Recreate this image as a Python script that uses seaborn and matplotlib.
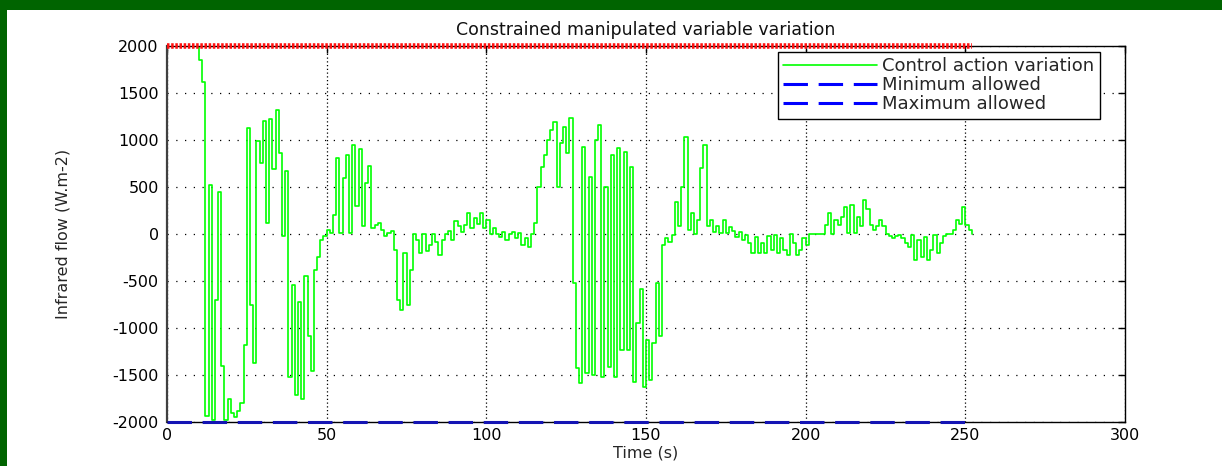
import numpy as np
import pandas as pd
import matplotlib
matplotlib.use("Agg")
import matplotlib.pyplot as plt
import seaborn as sns
from matplotlib.lines import Line2D
from matplotlib.patches import Rectangle

# ---------------- data ----------------
sample_time = 1.0  # s
control_values = [
    2000, 2000, 2000, 2000, 2000, 2000, 2000, 2000, 2000, 2000,
    1850, 1620, -1940, 520, -1980, -700, 450, -1400, -1980, -1750,
    -1900, -1950, -1880, -1800, -1180, 1130, -750, -1375, 990, 760,
    1200, 120, 1220, 690, 1320, 860, -25, 670, -1520, -540,
    -1710, -720, -1750, -450, -1090, -1460, -380, -240, -60, -25,
    45, 10, 205, 810, 10, 600, 845, 10, 950, 295,
    900, 80, 545, 720, 65, 100, 120, 45, -25, 10,
    30, -165, -700, -805, -200, -750, -380, 0, -60, -200,
    0, -185, -115, 0, -80, -220, -60, 0, 30, -60,
    135, 80, 20, 100, 225, 65, 170, 110, 225, 65,
    150, 0, 60, 0, -30, 20, -65, 0, 20, -45,
    10, -115, -40, -135, 0, 115, 500, 715, 840, 1000,
    1105, 1195, 500, 965, 1140, 860, 1230, -525, -1430, -1590,
    930, -1480, 610, -1500, 1000, 1160, -1520, 500, -1410, 840,
    -1520, 910, -1230, 875, -1230, 715, -1570, -950, -580, -1625,
    -1130, -1550, -1160, -525, -1090, -115, -45, -80, -10, 345,
    80, 500, 1035, 40, 220, 0, 150, 700, 945, 80,
    150, 20, 80, 10, 150, 10, 70, 30, -30, 20,
    -60, -10, -100, -205, -30, -200, -100, -200, -20, -170,
    -10, -200, -40, -170, -225, 0, -100, -225, -170, -45,
    -115, 0, 0, 0, 0, 0, 95, 220, 0, 150,
    95, 185, 290, 10, 310, 10, 185, 90, 360, 270,
    95, 40, 80, 150, 80, 0, -20, -45, -25, -10,
    -45, -100, -135, -10, -275, -60, -240, -30, -275, -170,
    -10, -205, -100, -20, 0, 0, 40, 150, 110, 285,
    100, 40, 0,
]
limit_time = [0, 252]
max_allowed = [2000, 2000]
min_allowed = [-2000, -2000]
x_ticks = [0, 50, 100, 150, 200, 250, 300]
y_ticks = [-2000, -1500, -1000, -500, 0, 500, 1000, 1500, 2000]

title_text = "Constrained manipulated variable variation"
xlabel_text = "Time (s)"
ylabel_text = "Infrared flow (W.m-2)"
legend_labels = ["Control action variation", "Minimum allowed", "Maximum allowed"]

# ---------------- figure ----------------
sns.set_style("white")
plt.rcParams["font.family"] = ["DejaVu Sans"]

W, H = 1222, 466
fig = plt.figure(figsize=(W / 100, H / 100), dpi=100, facecolor="#006400")
fig.add_artist(Rectangle((7 / W, 0), 1, (H - 10) / H, transform=fig.transFigure,
                         facecolor="white", edgecolor="none", zorder=-10))

ax_l, ax_r, ax_t, ax_b = 167, 1125, 46, 422
ax = fig.add_axes([ax_l / W, (H - ax_b) / H, (ax_r - ax_l) / W, (ax_b - ax_t) / H])
ax.set_facecolor("white")

df = pd.DataFrame({"time": np.arange(len(control_values)) * sample_time,
                   "value": control_values})
sns.lineplot(data=df, x="time", y="value", ax=ax, estimator=None, sort=False,
             drawstyle="steps-post", color="#00ff00", linewidth=1.2, legend=False)

lim_df = pd.DataFrame({"time": limit_time, "max": max_allowed, "min": min_allowed})
sns.lineplot(data=lim_df, x="time", y="min", ax=ax, estimator=None, color="#1414b4",
             linewidth=2.2, legend=False)
ln_min = ax.lines[-1]
ln_min.set_linestyle((0, (8, 3.5)))
ln_min.set_clip_on(False)
ln_min.set_zorder(3)
sns.lineplot(data=lim_df, x="time", y="max", ax=ax, estimator=None, color="#ff1010",
             linewidth=4.0, legend=False)
ln_max = ax.lines[-1]
ln_max.set_linestyle((0, (0.45, 0.3)))
ln_max.set_clip_on(False)
ln_max.set_zorder(3)

ax.set_xlim(0, 300)
ax.set_ylim(-2000, 2000)
ax.set_xticks(x_ticks)
ax.set_yticks(y_ticks)
ax.set_xticklabels([str(v) for v in x_ticks])
ax.set_yticklabels([str(v) for v in y_ticks])

ax.xaxis.grid(True, color="black", linewidth=0.9, linestyle=(0, (1, 2)))
ax.yaxis.grid(True, color="black", linewidth=0.9, linestyle=(0, (1, 6)))
ax.set_axisbelow(True)

for s in ax.spines.values():
    s.set_visible(True)
    s.set_color("black")
    s.set_linewidth(1.0)
ax.spines["left"].set_linewidth(1.6)
ax.spines["left"].set_color("#404040")

ax.tick_params(axis="both", direction="in", length=5, width=1, colors="black",
               labelsize=11.5, top=True, right=True, pad=6)
ax.tick_params(axis="x", pad=4)

ax.set_title(title_text, fontsize=12.5, pad=8, color="#111111")
ax.set_xlabel(xlabel_text, fontsize=11.5, labelpad=2)
ax.set_ylabel(ylabel_text, fontsize=11.5)
ax.yaxis.set_label_coords((70 - ax_l) / (ax_r - ax_l), 0.5)

handles = [
    Line2D([], [], color="#00ff00", linewidth=1.2),
    Line2D([], [], color="#0000ff", linewidth=2.2, linestyle=(0, (8, 3.5))),
    Line2D([], [], color="#0000ff", linewidth=2.2, linestyle=(0, (8, 3.5))),
]
leg = ax.legend(handles, legend_labels, loc="upper right",
                bbox_to_anchor=((1100 - ax_l) / (ax_r - ax_l), (ax_b - 52) / (ax_b - ax_t)),
                fontsize=13, frameon=True, fancybox=False, framealpha=1,
                edgecolor="black", handlelength=5.2, handletextpad=0.3,
                labelspacing=0.05, borderpad=0.3, borderaxespad=0)
leg.get_frame().set_linewidth(1.0)
leg.set_zorder(5)

fig.savefig("out.png", dpi=100, facecolor=fig.get_facecolor())
